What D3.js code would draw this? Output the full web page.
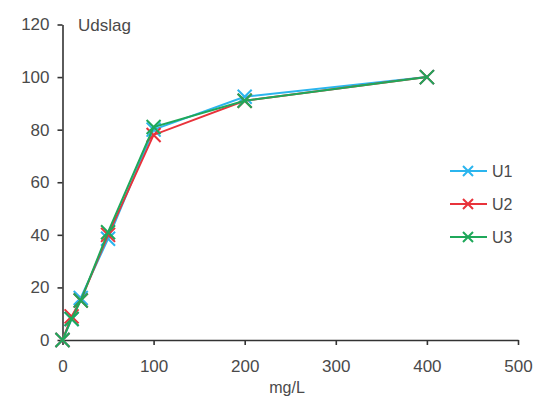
<!DOCTYPE html>
<html><head><meta charset="utf-8">
<script src="https://cdn.jsdelivr.net/npm/d3@7"></script>
<style>body{margin:0;background:#fff;}svg{display:block;font-family:"Liberation Sans",Arial,sans-serif;}</style>
</head><body><svg id="c" width="540" height="399"></svg>
<script>
const xValues = [0, 10, 20, 50, 100, 200, 400];
const seriesNames = ["U1", "U2", "U3"];
const u1 = [0, 8, 16, 38.5, 80, 92.5, 100];
const u2 = [0, 9, 15, 40, 78, 91, 100];
const u3 = [0, 8, 15, 41, 81, 91, 100];
const colors = ["#2bb5ee", "#e8333b", "#1fa85a"];
const xTicks = [0, 100, 200, 300, 400, 500];
const yTicks = [0, 20, 40, 60, 80, 100, 120];

const svg = d3.select("#c");
const x = d3.scaleLinear().domain([0, 500]).range([62.5, 518]);
const y = d3.scaleLinear().domain([0, 120]).range([340, 24.5]);
const textCol = "#4a4a4a";

const gx = svg.append("g").attr("transform", `translate(0,${y(0)})`)
  .call(d3.axisBottom(x).tickValues(xTicks).tickSize(5).tickSizeOuter(0).tickPadding(15));
const gy = svg.append("g").attr("transform", `translate(${x(0)},0)`)
  .call(d3.axisLeft(y).tickValues(yTicks).tickSize(5).tickSizeOuter(0).tickPadding(8));
[gx, gy].forEach(g => {
  g.selectAll("path,line").attr("stroke", "#333").attr("stroke-width", 1.6);
  g.selectAll("text").attr("fill", textCol).style("font-size", "17px").style("font-family", "Liberation Sans, Arial, sans-serif");
});

svg.append("text").attr("x", 78).attr("y", 31).attr("fill", textCol).style("font-size", "17px").text("Udslag");
svg.append("text").attr("x", 287).attr("y", 393).attr("text-anchor", "middle").attr("fill", textCol).style("font-size", "16px").text("mg/L");

const data = [u1, u2, u3];
const line = d3.line().x((d, i) => x(xValues[i])).y(d => y(d));
function cross(g, cx, cy, s, col, w) {
  g.append("path").attr("d", `M${cx-s},${cy-s}L${cx+s},${cy+s}M${cx-s},${cy+s}L${cx+s},${cy-s}`)
    .attr("stroke", col).attr("stroke-width", w).attr("fill", "none");
}
data.forEach((vals, k) => {
  const g = svg.append("g");
  g.append("path").datum(vals).attr("d", line).attr("fill", "none").attr("stroke", colors[k]).attr("stroke-width", 2);
  vals.forEach((v, i) => cross(g, x(xValues[i]), y(v), 7, colors[k], 2));
});

const leg = svg.append("g");
seriesNames.forEach((n, k) => {
  const ly = 171 + k * 33;
  leg.append("line").attr("x1", 450).attr("x2", 487).attr("y1", ly).attr("y2", ly).attr("stroke", colors[k]).attr("stroke-width", 2);
  cross(leg, 468, ly, 5, colors[k], 2);
  leg.append("text").attr("x", 492).attr("y", ly + 6).attr("fill", textCol).style("font-size", "16px").text(n);
});
</script></body></html>
